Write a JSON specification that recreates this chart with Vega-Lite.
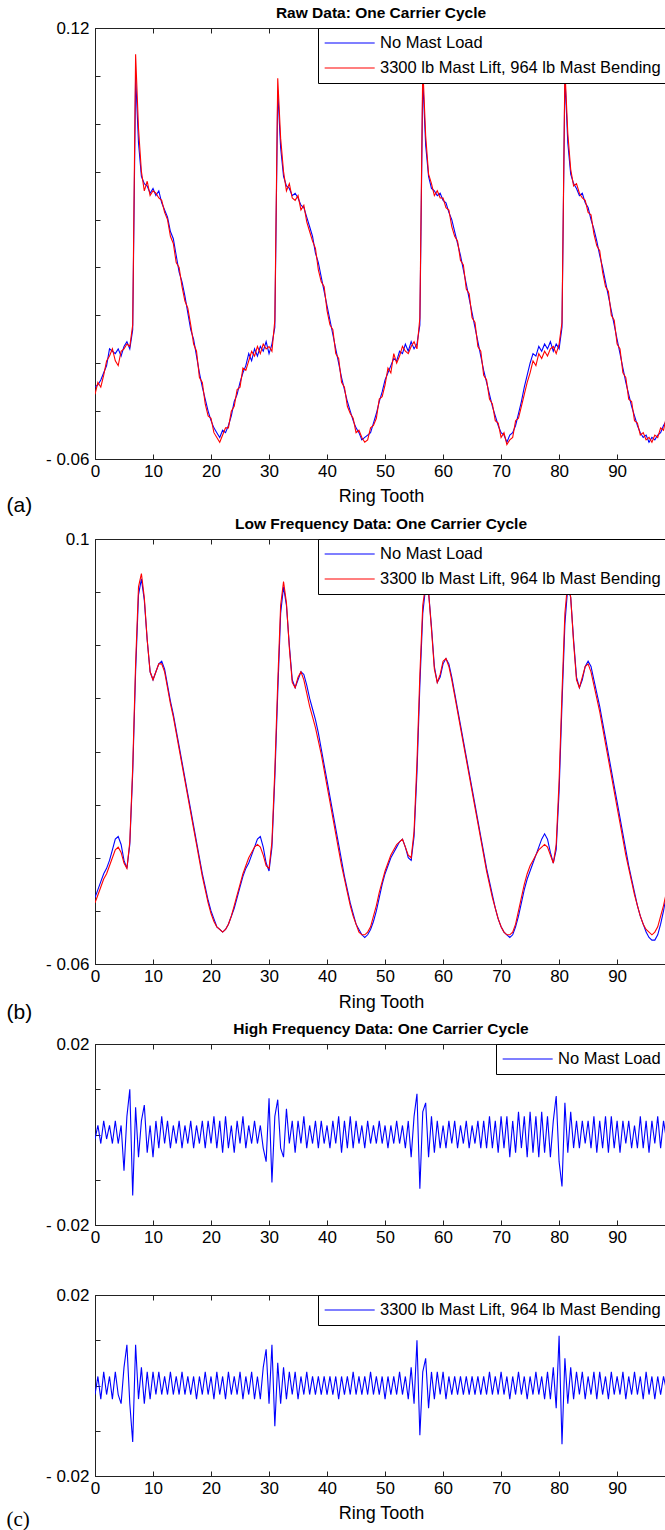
{
"$schema": "https://vega.github.io/schema/vega-lite/v6.json",
"background": "white",
"padding": {"left": 5, "top": 5, "right": 0, "bottom": 0},
"datasets": {"d": [
{"t":0,"an":-0.030,"al":-0.033,"bn":-0.035,"bl":-0.037,"cn":-0.001,"cl":-0.002},
{"t":0.5,"an":-0.029,"al":-0.028,"bn":-0.032,"bl":-0.034,"cn":0.002,"cl":0.002},
{"t":1,"an":-0.027,"al":-0.030,"bn":-0.029,"bl":-0.031,"cn":-0.002,"cl":-0.003},
{"t":1.5,"an":-0.024,"al":-0.025,"bn":-0.026,"bl":-0.028,"cn":0.003,"cl":0.003},
{"t":2,"an":-0.021,"al":-0.019,"bn":-0.024,"bl":-0.026,"cn":-0.001,"cl":-0.002},
{"t":2.5,"an":-0.014,"al":-0.017,"bn":-0.021,"bl":-0.023,"cn":0.002,"cl":0.002},
{"t":3,"an":-0.015,"al":-0.014,"bn":-0.017,"bl":-0.020,"cn":-0.002,"cl":-0.003},
{"t":3.5,"an":-0.016,"al":-0.019,"bn":-0.013,"bl":-0.017,"cn":0.003,"cl":0.003},
{"t":4,"an":-0.014,"al":-0.021,"bn":-0.012,"bl":-0.016,"cn":-0.002,"cl":-0.002},
{"t":4.5,"an":-0.017,"al":-0.015,"bn":-0.015,"bl":-0.018,"cn":0.002,"cl":-0.004},
{"t":5,"an":-0.013,"al":-0.014,"bn":-0.021,"bl":-0.022,"cn":-0.008,"cl":0.004},
{"t":5.5,"an":-0.011,"al":-0.012,"bn":-0.024,"bl":-0.024,"cn":0.004,"cl":0.009},
{"t":6,"an":-0.014,"al":-0.013,"bn":-0.015,"bl":-0.014,"cn":0.010,"cl":-0.004},
{"t":6.5,"an":-0.006,"al":-0.004,"bn":0.012,"bl":0.014,"cn":-0.0135,"cl":-0.0125},
{"t":7,"an":0.100,"al":0.109,"bn":0.050,"bl":0.053,"cn":0.006,"cl":0.009},
{"t":7.5,"an":0.072,"al":0.078,"bn":0.079,"bl":0.082,"cn":-0.005,"cl":-0.003},
{"t":8,"an":0.058,"al":0.060,"bn":0.085,"bl":0.087,"cn":0.003,"cl":0.004},
{"t":8.5,"an":0.055,"al":0.052,"bn":0.077,"bl":0.078,"cn":0.0065,"cl":-0.004},
{"t":9,"an":0.054,"al":0.056,"bn":0.062,"bl":0.062,"cn":-0.004,"cl":0.003},
{"t":9.5,"an":0.051,"al":0.050,"bn":0.050,"bl":0.050,"cn":0.002,"cl":-0.003},
{"t":10,"an":0.053,"al":0.052,"bn":0.047,"bl":0.047,"cn":-0.005,"cl":0.003},
{"t":10.5,"an":0.050,"al":0.051,"bn":0.050,"bl":0.050,"cn":0.003,"cl":-0.002},
{"t":11,"an":0.052,"al":0.049,"bn":0.053,"bl":0.053,"cn":-0.003,"cl":0.003},
{"t":11.5,"an":0.047,"al":0.048,"bn":0.054,"bl":0.053,"cn":0.004,"cl":-0.002},
{"t":12,"an":0.044,"al":0.043,"bn":0.051,"bl":0.050,"cn":-0.002,"cl":0.002},
{"t":12.5,"an":0.041,"al":0.040,"bn":0.045,"bl":0.044,"cn":0.003,"cl":-0.002},
{"t":13,"an":0.035,"al":0.033,"bn":0.039,"bl":0.038,"cn":-0.003,"cl":0.003},
{"t":13.5,"an":0.032,"al":0.030,"bn":0.034,"bl":0.033,"cn":0.002,"cl":-0.002},
{"t":14,"an":0.025,"al":0.022,"bn":0.028,"bl":0.027,"cn":-0.002,"cl":0.002},
{"t":14.5,"an":0.018,"al":0.020,"bn":0.022,"bl":0.021,"cn":0.003,"cl":-0.002},
{"t":15,"an":0.014,"al":0.012,"bn":0.016,"bl":0.015,"cn":-0.003,"cl":0.003},
{"t":15.5,"an":0.008,"al":0.006,"bn":0.010,"bl":0.009,"cn":0.002,"cl":-0.002},
{"t":16,"an":0.001,"al":0.003,"bn":0.004,"bl":0.003,"cn":-0.002,"cl":0.002},
{"t":16.5,"an":-0.006,"al":-0.004,"bn":-0.002,"bl":-0.003,"cn":0.003,"cl":-0.002},
{"t":17,"an":-0.010,"al":-0.012,"bn":-0.008,"bl":-0.009,"cn":-0.003,"cl":0.002},
{"t":17.5,"an":-0.017,"al":-0.015,"bn":-0.014,"bl":-0.015,"cn":0.002,"cl":-0.003},
{"t":18,"an":-0.024,"al":-0.026,"bn":-0.020,"bl":-0.021,"cn":-0.002,"cl":0.002},
{"t":18.5,"an":-0.030,"al":-0.028,"bn":-0.026,"bl":-0.027,"cn":0.003,"cl":-0.002},
{"t":19,"an":-0.035,"al":-0.037,"bn":-0.031,"bl":-0.032,"cn":-0.003,"cl":0.003},
{"t":19.5,"an":-0.040,"al":-0.042,"bn":-0.036,"bl":-0.037,"cn":0.003,"cl":-0.002},
{"t":20,"an":-0.044,"al":-0.043,"bn":-0.040,"bl":-0.041,"cn":-0.002,"cl":0.002},
{"t":20.5,"an":-0.047,"al":-0.049,"bn":-0.043,"bl":-0.044,"cn":0.004,"cl":-0.003},
{"t":21,"an":-0.049,"al":-0.051,"bn":-0.046,"bl":-0.046,"cn":-0.003,"cl":0.003},
{"t":21.5,"an":-0.051,"al":-0.053,"bn":-0.047,"bl":-0.047,"cn":0.003,"cl":-0.002},
{"t":22,"an":-0.048,"al":-0.050,"bn":-0.048,"bl":-0.048,"cn":-0.004,"cl":0.002},
{"t":22.5,"an":-0.049,"al":-0.047,"bn":-0.047,"bl":-0.047,"cn":0.004,"cl":-0.003},
{"t":23,"an":-0.046,"al":-0.047,"bn":-0.045,"bl":-0.045,"cn":-0.003,"cl":0.003},
{"t":23.5,"an":-0.042,"al":-0.040,"bn":-0.042,"bl":-0.042,"cn":0.002,"cl":-0.002},
{"t":24,"an":-0.036,"al":-0.038,"bn":-0.039,"bl":-0.038,"cn":-0.004,"cl":0.002},
{"t":24.5,"an":-0.033,"al":-0.031,"bn":-0.035,"bl":-0.034,"cn":0.003,"cl":-0.002},
{"t":25,"an":-0.028,"al":-0.030,"bn":-0.031,"bl":-0.030,"cn":-0.002,"cl":0.003},
{"t":25.5,"an":-0.024,"al":-0.022,"bn":-0.027,"bl":-0.026,"cn":0.004,"cl":-0.003},
{"t":26,"an":-0.021,"al":-0.023,"bn":-0.024,"bl":-0.023,"cn":-0.003,"cl":0.002},
{"t":26.5,"an":-0.016,"al":-0.019,"bn":-0.022,"bl":-0.020,"cn":0.002,"cl":-0.002},
{"t":27,"an":-0.019,"al":-0.015,"bn":-0.019,"bl":-0.018,"cn":-0.002,"cl":0.003},
{"t":27.5,"an":-0.014,"al":-0.017,"bn":-0.016,"bl":-0.016,"cn":0.003,"cl":-0.003},
{"t":28,"an":-0.017,"al":-0.013,"bn":-0.013,"bl":-0.015,"cn":-0.002,"cl":0.002},
{"t":28.5,"an":-0.013,"al":-0.016,"bn":-0.012,"bl":-0.016,"cn":0.002,"cl":-0.003},
{"t":29,"an":-0.015,"al":-0.012,"bn":-0.016,"bl":-0.019,"cn":-0.003,"cl":0.004},
{"t":29.5,"an":-0.011,"al":-0.014,"bn":-0.022,"bl":-0.023,"cn":-0.006,"cl":0.008},
{"t":30,"an":-0.016,"al":-0.013,"bn":-0.025,"bl":-0.024,"cn":0.008,"cl":-0.004},
{"t":30.5,"an":-0.012,"al":-0.015,"bn":-0.016,"bl":-0.014,"cn":-0.0106,"cl":0.009},
{"t":31,"an":-0.005,"al":-0.002,"bn":0.010,"bl":0.013,"cn":0.004,"cl":-0.009},
{"t":31.5,"an":0.094,"al":0.099,"bn":0.042,"bl":0.046,"cn":0.0077,"cl":0.005},
{"t":32,"an":0.070,"al":0.074,"bn":0.072,"bl":0.075,"cn":-0.003,"cl":-0.004},
{"t":32.5,"an":0.058,"al":0.060,"bn":0.082,"bl":0.084,"cn":-0.005,"cl":0.004},
{"t":33,"an":0.054,"al":0.052,"bn":0.075,"bl":0.076,"cn":0.0057,"cl":-0.003},
{"t":33.5,"an":0.053,"al":0.055,"bn":0.060,"bl":0.059,"cn":-0.002,"cl":0.003},
{"t":34,"an":0.050,"al":0.049,"bn":0.047,"bl":0.046,"cn":0.003,"cl":-0.002},
{"t":34.5,"an":0.051,"al":0.048,"bn":0.044,"bl":0.044,"cn":-0.004,"cl":0.003},
{"t":35,"an":0.049,"al":0.050,"bn":0.047,"bl":0.048,"cn":0.003,"cl":-0.003},
{"t":35.5,"an":0.046,"al":0.044,"bn":0.050,"bl":0.050,"cn":-0.002,"cl":0.002},
{"t":36,"an":0.045,"al":0.046,"bn":0.049,"bl":0.047,"cn":0.004,"cl":-0.002},
{"t":36.5,"an":0.041,"al":0.039,"bn":0.045,"bl":0.042,"cn":-0.003,"cl":0.003},
{"t":37,"an":0.037,"al":0.035,"bn":0.040,"bl":0.037,"cn":0.002,"cl":-0.002},
{"t":37.5,"an":0.033,"al":0.031,"bn":0.036,"bl":0.033,"cn":-0.002,"cl":0.002},
{"t":38,"an":0.026,"al":0.028,"bn":0.032,"bl":0.029,"cn":0.003,"cl":-0.002},
{"t":38.5,"an":0.022,"al":0.019,"bn":0.027,"bl":0.024,"cn":-0.003,"cl":0.002},
{"t":39,"an":0.016,"al":0.014,"bn":0.021,"bl":0.019,"cn":0.003,"cl":-0.002},
{"t":39.5,"an":0.010,"al":0.012,"bn":0.015,"bl":0.013,"cn":-0.002,"cl":0.002},
{"t":40,"an":0.004,"al":0.002,"bn":0.009,"bl":0.007,"cn":0.002,"cl":-0.002},
{"t":40.5,"an":-0.002,"al":-0.004,"bn":0.003,"bl":0.001,"cn":-0.003,"cl":0.002},
{"t":41,"an":-0.008,"al":-0.006,"bn":-0.003,"bl":-0.005,"cn":0.003,"cl":-0.002},
{"t":41.5,"an":-0.014,"al":-0.016,"bn":-0.009,"bl":-0.011,"cn":-0.002,"cl":0.002},
{"t":42,"an":-0.020,"al":-0.018,"bn":-0.015,"bl":-0.017,"cn":0.004,"cl":-0.003},
{"t":42.5,"an":-0.026,"al":-0.028,"bn":-0.021,"bl":-0.023,"cn":-0.004,"cl":0.002},
{"t":43,"an":-0.031,"al":-0.030,"bn":-0.027,"bl":-0.028,"cn":0.003,"cl":-0.002},
{"t":43.5,"an":-0.036,"al":-0.038,"bn":-0.032,"bl":-0.033,"cn":-0.003,"cl":0.002},
{"t":44,"an":-0.040,"al":-0.041,"bn":-0.037,"bl":-0.038,"cn":0.004,"cl":-0.002},
{"t":44.5,"an":-0.044,"al":-0.043,"bn":-0.041,"bl":-0.042,"cn":-0.003,"cl":0.003},
{"t":45,"an":-0.047,"al":-0.049,"bn":-0.045,"bl":-0.045,"cn":0.003,"cl":-0.002},
{"t":45.5,"an":-0.049,"al":-0.048,"bn":-0.047,"bl":-0.048,"cn":-0.002,"cl":0.002},
{"t":46,"an":-0.052,"al":-0.051,"bn":-0.049,"bl":-0.049,"cn":0.002,"cl":-0.002},
{"t":46.5,"an":-0.051,"al":-0.053,"bn":-0.050,"bl":-0.049,"cn":-0.003,"cl":0.002},
{"t":47,"an":-0.050,"al":-0.052,"bn":-0.049,"bl":-0.048,"cn":0.003,"cl":-0.002},
{"t":47.5,"an":-0.049,"al":-0.047,"bn":-0.047,"bl":-0.046,"cn":-0.002,"cl":0.003},
{"t":48,"an":-0.045,"al":-0.046,"bn":-0.044,"bl":-0.042,"cn":0.002,"cl":-0.002},
{"t":48.5,"an":-0.041,"al":-0.043,"bn":-0.040,"bl":-0.038,"cn":-0.002,"cl":0.002},
{"t":49,"an":-0.036,"al":-0.035,"bn":-0.035,"bl":-0.033,"cn":0.003,"cl":-0.002},
{"t":49.5,"an":-0.032,"al":-0.034,"bn":-0.030,"bl":-0.029,"cn":-0.002,"cl":0.002},
{"t":50,"an":-0.027,"al":-0.029,"bn":-0.026,"bl":-0.025,"cn":0.002,"cl":-0.003},
{"t":50.5,"an":-0.024,"al":-0.022,"bn":-0.023,"bl":-0.022,"cn":-0.003,"cl":0.002},
{"t":51,"an":-0.021,"al":-0.024,"bn":-0.020,"bl":-0.019,"cn":0.002,"cl":-0.002},
{"t":51.5,"an":-0.018,"al":-0.016,"bn":-0.018,"bl":-0.017,"cn":-0.002,"cl":0.002},
{"t":52,"an":-0.019,"al":-0.020,"bn":-0.016,"bl":-0.015,"cn":0.003,"cl":-0.002},
{"t":52.5,"an":-0.015,"al":-0.017,"bn":-0.014,"bl":-0.014,"cn":-0.002,"cl":0.003},
{"t":53,"an":-0.016,"al":-0.013,"bn":-0.013,"bl":-0.013,"cn":0.002,"cl":-0.002},
{"t":53.5,"an":-0.012,"al":-0.015,"bn":-0.016,"bl":-0.016,"cn":-0.003,"cl":0.002},
{"t":54,"an":-0.015,"al":-0.016,"bn":-0.020,"bl":-0.019,"cn":0.003,"cl":-0.003},
{"t":54.5,"an":-0.011,"al":-0.013,"bn":-0.021,"bl":-0.020,"cn":-0.005,"cl":0.004},
{"t":55,"an":-0.014,"al":-0.011,"bn":-0.012,"bl":-0.010,"cn":0.004,"cl":-0.004},
{"t":55.5,"an":-0.012,"al":-0.014,"bn":0.012,"bl":0.016,"cn":0.009,"cl":0.010},
{"t":56,"an":-0.004,"al":-0.001,"bn":0.045,"bl":0.049,"cn":-0.012,"cl":-0.011},
{"t":56.5,"an":0.099,"al":0.104,"bn":0.072,"bl":0.075,"cn":0.005,"cl":0.003},
{"t":57,"an":0.071,"al":0.075,"bn":0.082,"bl":0.083,"cn":0.007,"cl":0.006},
{"t":57.5,"an":0.058,"al":0.059,"bn":0.080,"bl":0.080,"cn":-0.005,"cl":-0.005},
{"t":58,"an":0.053,"al":0.055,"bn":0.067,"bl":0.066,"cn":0.004,"cl":0.003},
{"t":58.5,"an":0.052,"al":0.050,"bn":0.052,"bl":0.051,"cn":-0.004,"cl":-0.003},
{"t":59,"an":0.050,"al":0.052,"bn":0.046,"bl":0.046,"cn":0.003,"cl":0.003},
{"t":59.5,"an":0.051,"al":0.049,"bn":0.048,"bl":0.049,"cn":-0.003,"cl":-0.002},
{"t":60,"an":0.048,"al":0.049,"bn":0.053,"bl":0.054,"cn":0.002,"cl":0.003},
{"t":60.5,"an":0.047,"al":0.045,"bn":0.055,"bl":0.055,"cn":-0.003,"cl":-0.003},
{"t":61,"an":0.043,"al":0.044,"bn":0.053,"bl":0.052,"cn":0.003,"cl":0.002},
{"t":61.5,"an":0.040,"al":0.037,"bn":0.048,"bl":0.047,"cn":-0.002,"cl":-0.002},
{"t":62,"an":0.035,"al":0.033,"bn":0.042,"bl":0.041,"cn":0.003,"cl":0.002},
{"t":62.5,"an":0.030,"al":0.031,"bn":0.036,"bl":0.035,"cn":-0.003,"cl":-0.002},
{"t":63,"an":0.025,"al":0.023,"bn":0.030,"bl":0.029,"cn":0.002,"cl":0.002},
{"t":63.5,"an":0.019,"al":0.021,"bn":0.024,"bl":0.023,"cn":-0.002,"cl":-0.002},
{"t":64,"an":0.013,"al":0.011,"bn":0.018,"bl":0.017,"cn":0.003,"cl":0.002},
{"t":64.5,"an":0.007,"al":0.009,"bn":0.012,"bl":0.011,"cn":-0.003,"cl":-0.002},
{"t":65,"an":0.001,"al":-0.001,"bn":0.006,"bl":0.005,"cn":0.002,"cl":0.002},
{"t":65.5,"an":-0.005,"al":-0.003,"bn":0,"bl":-0.001,"cn":-0.002,"cl":-0.002},
{"t":66,"an":-0.011,"al":-0.013,"bn":-0.006,"bl":-0.007,"cn":0.003,"cl":0.002},
{"t":66.5,"an":-0.017,"al":-0.015,"bn":-0.012,"bl":-0.013,"cn":-0.003,"cl":-0.002},
{"t":67,"an":-0.023,"al":-0.025,"bn":-0.018,"bl":-0.019,"cn":0.003,"cl":0.002},
{"t":67.5,"an":-0.028,"al":-0.027,"bn":-0.024,"bl":-0.025,"cn":-0.003,"cl":-0.002},
{"t":68,"an":-0.033,"al":-0.035,"bn":-0.029,"bl":-0.030,"cn":0.004,"cl":0.003},
{"t":68.5,"an":-0.038,"al":-0.037,"bn":-0.034,"bl":-0.035,"cn":-0.003,"cl":-0.002},
{"t":69,"an":-0.042,"al":-0.044,"bn":-0.039,"bl":-0.039,"cn":0.003,"cl":0.002},
{"t":69.5,"an":-0.046,"al":-0.045,"bn":-0.043,"bl":-0.043,"cn":-0.004,"cl":-0.002},
{"t":70,"an":-0.049,"al":-0.051,"bn":-0.046,"bl":-0.046,"cn":0.004,"cl":0.003},
{"t":70.5,"an":-0.050,"al":-0.049,"bn":-0.048,"bl":-0.048,"cn":-0.003,"cl":-0.002},
{"t":71,"an":-0.053,"al":-0.054,"bn":-0.049,"bl":-0.049,"cn":0.004,"cl":0.002},
{"t":71.5,"an":-0.050,"al":-0.052,"bn":-0.050,"bl":-0.049,"cn":-0.005,"cl":-0.003},
{"t":72,"an":-0.049,"al":-0.051,"bn":-0.049,"bl":-0.048,"cn":0.003,"cl":0.002},
{"t":72.5,"an":-0.046,"al":-0.044,"bn":-0.046,"bl":-0.045,"cn":-0.004,"cl":-0.002},
{"t":73,"an":-0.041,"al":-0.043,"bn":-0.042,"bl":-0.040,"cn":0.005,"cl":0.003},
{"t":73.5,"an":-0.036,"al":-0.038,"bn":-0.037,"bl":-0.035,"cn":-0.003,"cl":-0.002},
{"t":74,"an":-0.030,"al":-0.033,"bn":-0.032,"bl":-0.030,"cn":0.004,"cl":0.002},
{"t":74.5,"an":-0.025,"al":-0.028,"bn":-0.028,"bl":-0.026,"cn":-0.005,"cl":-0.003},
{"t":75,"an":-0.020,"al":-0.024,"bn":-0.025,"bl":-0.023,"cn":0.005,"cl":0.002},
{"t":75.5,"an":-0.016,"al":-0.019,"bn":-0.022,"bl":-0.021,"cn":-0.004,"cl":-0.002},
{"t":76,"an":-0.017,"al":-0.021,"bn":-0.019,"bl":-0.019,"cn":0.004,"cl":0.003},
{"t":76.5,"an":-0.013,"al":-0.016,"bn":-0.016,"bl":-0.017,"cn":-0.005,"cl":-0.002},
{"t":77,"an":-0.015,"al":-0.018,"bn":-0.013,"bl":-0.016,"cn":0.005,"cl":0.002},
{"t":77.5,"an":-0.012,"al":-0.015,"bn":-0.011,"bl":-0.015,"cn":-0.004,"cl":-0.003},
{"t":78,"an":-0.014,"al":-0.017,"bn":-0.013,"bl":-0.016,"cn":0.004,"cl":0.003},
{"t":78.5,"an":-0.011,"al":-0.014,"bn":-0.018,"bl":-0.019,"cn":-0.005,"cl":-0.003},
{"t":79,"an":-0.015,"al":-0.013,"bn":-0.022,"bl":-0.022,"cn":0.003,"cl":0.004},
{"t":79.5,"an":-0.012,"al":-0.016,"bn":-0.017,"bl":-0.015,"cn":0.0085,"cl":-0.005},
{"t":80,"an":-0.014,"al":-0.012,"bn":0.005,"bl":0.009,"cn":-0.006,"cl":0.011},
{"t":80.5,"an":-0.005,"al":-0.003,"bn":0.038,"bl":0.042,"cn":-0.0115,"cl":-0.013},
{"t":81,"an":0.100,"al":0.103,"bn":0.068,"bl":0.072,"cn":0.007,"cl":0.006},
{"t":81.5,"an":0.072,"al":0.076,"bn":0.082,"bl":0.084,"cn":-0.004,"cl":-0.004},
{"t":82,"an":0.059,"al":0.061,"bn":0.078,"bl":0.078,"cn":0.005,"cl":0.004},
{"t":82.5,"an":0.055,"al":0.054,"bn":0.062,"bl":0.061,"cn":-0.003,"cl":-0.003},
{"t":83,"an":0.053,"al":0.055,"bn":0.048,"bl":0.047,"cn":0.003,"cl":0.003},
{"t":83.5,"an":0.050,"al":0.051,"bn":0.044,"bl":0.044,"cn":-0.003,"cl":-0.002},
{"t":84,"an":0.051,"al":0.049,"bn":0.047,"bl":0.048,"cn":0.003,"cl":0.003},
{"t":84.5,"an":0.047,"al":0.048,"bn":0.052,"bl":0.052,"cn":-0.002,"cl":-0.003},
{"t":85,"an":0.045,"al":0.043,"bn":0.054,"bl":0.053,"cn":0.003,"cl":0.002},
{"t":85.5,"an":0.040,"al":0.042,"bn":0.052,"bl":0.050,"cn":-0.003,"cl":-0.002},
{"t":86,"an":0.036,"al":0.034,"bn":0.047,"bl":0.045,"cn":0.004,"cl":0.003},
{"t":86.5,"an":0.031,"al":0.029,"bn":0.042,"bl":0.040,"cn":-0.004,"cl":-0.003},
{"t":87,"an":0.025,"al":0.027,"bn":0.037,"bl":0.035,"cn":0.003,"cl":0.003},
{"t":87.5,"an":0.020,"al":0.018,"bn":0.031,"bl":0.029,"cn":-0.003,"cl":-0.002},
{"t":88,"an":0.014,"al":0.012,"bn":0.025,"bl":0.023,"cn":0.004,"cl":0.002},
{"t":88.5,"an":0.008,"al":0.010,"bn":0.019,"bl":0.017,"cn":-0.004,"cl":-0.003},
{"t":89,"an":0.002,"al":0,"bn":0.013,"bl":0.011,"cn":0.004,"cl":0.003},
{"t":89.5,"an":-0.004,"al":-0.002,"bn":0.007,"bl":0.005,"cn":-0.003,"cl":-0.002},
{"t":90,"an":-0.010,"al":-0.012,"bn":0.001,"bl":-0.001,"cn":0.003,"cl":0.002},
{"t":90.5,"an":-0.016,"al":-0.014,"bn":-0.005,"bl":-0.007,"cn":-0.004,"cl":-0.002},
{"t":91,"an":-0.022,"al":-0.024,"bn":-0.011,"bl":-0.013,"cn":0.003,"cl":0.003},
{"t":91.5,"an":-0.028,"al":-0.026,"bn":-0.017,"bl":-0.019,"cn":-0.002,"cl":-0.003},
{"t":92,"an":-0.033,"al":-0.035,"bn":-0.023,"bl":-0.024,"cn":0.003,"cl":0.002},
{"t":92.5,"an":-0.038,"al":-0.036,"bn":-0.028,"bl":-0.029,"cn":-0.003,"cl":-0.002},
{"t":93,"an":-0.042,"al":-0.044,"bn":-0.033,"bl":-0.034,"cn":0.002,"cl":0.003},
{"t":93.5,"an":-0.046,"al":-0.045,"bn":-0.038,"bl":-0.038,"cn":-0.003,"cl":-0.002},
{"t":94,"an":-0.049,"al":-0.050,"bn":-0.042,"bl":-0.042,"cn":0.004,"cl":0.002},
{"t":94.5,"an":-0.051,"al":-0.049,"bn":-0.045,"bl":-0.045,"cn":-0.003,"cl":-0.003},
{"t":95,"an":-0.050,"al":-0.052,"bn":-0.048,"bl":-0.047,"cn":0.003,"cl":0.003},
{"t":95.5,"an":-0.053,"al":-0.051,"bn":-0.050,"bl":-0.048,"cn":-0.004,"cl":-0.002},
{"t":96,"an":-0.051,"al":-0.053,"bn":-0.051,"bl":-0.049,"cn":0.003,"cl":0.002},
{"t":96.5,"an":-0.052,"al":-0.050,"bn":-0.051,"bl":-0.048,"cn":-0.002,"cl":-0.003},
{"t":97,"an":-0.050,"al":-0.051,"bn":-0.049,"bl":-0.046,"cn":0.004,"cl":0.002},
{"t":97.5,"an":-0.049,"al":-0.047,"bn":-0.045,"bl":-0.042,"cn":-0.003,"cl":-0.002},
{"t":98,"an":-0.046,"al":-0.048,"bn":-0.040,"bl":-0.038,"cn":0.003,"cl":0.002},
{"t":98.5,"an":-0.044,"al":-0.042,"bn":-0.034,"bl":-0.033,"cn":-0.001,"cl":-0.001}
]},
"data": {"name": "d"},
"config": {
  "font": "Liberation Sans",
  "view": {"stroke": "#222", "strokeWidth": 1},
  "axis": {"domainColor": "#222", "tickColor": "#222", "labelColor": "#000", "titleColor": "#000", "grid": false, "tickSize": -5, "labelFontSize": 17, "labelFont": "Liberation Sans", "titleFont": "Liberation Sans", "titleFontWeight": "normal", "titleFontSize": 18, "labelFlush": false, "labelOverlap": false},
  "axisX": {"labelPadding": 9},
  "axisY": {"labelPadding": 11, "labelBaseline": "middle"},
  "title": {"fontSize": 15.5, "fontWeight": "bold", "font": "Liberation Sans", "color": "#000", "offset": -2, "anchor": "middle", "frame": "group"},
  "legend": {"orient": "top-right", "offset": 0, "symbolType": "M-1,0H5", "symbolSize": 278, "symbolStrokeWidth": 1.2, "labelFontSize": 16.5, "labelFont": "Liberation Sans", "labelColor": "#000", "strokeColor": "#000", "fillColor": "#fff", "padding": 6, "rowPadding": 7, "labelLimit": 0, "labelOffset": 38, "cornerRadius": 0},
  "line": {"strokeWidth": 1.1}
},
"bounds": "flush",
"spacing": 80,
"resolve": {"scale": {"x": "independent", "y": "independent", "color": "independent"}, "legend": {"color": "independent"}},
"vconcat": [
  {
    "title": {"text": "Raw Data: One Carrier Cycle"},
    "width": 572, "height": 431,
    "layer": [
      {"mark": {"type": "line", "clip": true},
       "encoding": {
         "x": {"field": "t", "type": "quantitative", "scale": {"domain": [0, 98.6], "nice": false, "zero": false},
               "axis": {"orient": "bottom", "values": [0,10,20,30,40,50,60,70,80,90], "title": "Ring Tooth", "titlePadding": 8}},
         "y": {"field": "an", "type": "quantitative", "scale": {"domain": [-0.06, 0.12], "nice": false, "zero": false},
               "axis": {"values": [-0.06,-0.04,-0.02,0,0.02,0.04,0.06,0.08,0.1,0.12], "labelExpr": "datum.value == 0.12 ? '0.12' : (datum.value == -0.06 ? '- 0.06' : '')",
                        "title": "(a)", "titleAngle": 0, "titleX": -89, "titleY": 477, "titleAlign": "left", "titleBaseline": "middle", "titleFontSize": 21}},
         "color": {"datum": "No Mast Load", "type": "nominal",
                   "scale": {"domain": ["No Mast Load", "3300 lb Mast Lift, 964 lb Mast Bending"], "range": ["#0000ff", "#ff0000"]},
                   "legend": {"title": null}}
       }},
      {"mark": {"type": "line", "clip": true},
       "encoding": {
         "x": {"field": "t", "type": "quantitative", "axis": {"orient": "top", "values": [0,10,20,30,40,50,60,70,80,90], "labels": false, "domain": false, "title": null}},
         "y": {"field": "al", "type": "quantitative"},
         "color": {"datum": "3300 lb Mast Lift, 964 lb Mast Bending", "type": "nominal"}
       }}
    ],
    "resolve": {"axis": {"x": "independent"}}
  },
  {
    "title": {"text": "Low Frequency Data: One Carrier Cycle"},
    "width": 572, "height": 425,
    "layer": [
      {"mark": {"type": "line", "clip": true},
       "encoding": {
         "x": {"field": "t", "type": "quantitative", "scale": {"domain": [0, 98.6], "nice": false, "zero": false},
               "axis": {"orient": "bottom", "values": [0,10,20,30,40,50,60,70,80,90], "title": "Ring Tooth", "titlePadding": 9}},
         "y": {"field": "bn", "type": "quantitative", "scale": {"domain": [-0.06, 0.1], "nice": false, "zero": false},
               "axis": {"values": [-0.06,-0.04,-0.02,0,0.02,0.04,0.06,0.08,0.1], "labelExpr": "datum.value == 0.1 ? '0.1' : (datum.value == -0.06 ? '- 0.06' : '')",
                        "title": "(b)", "titleAngle": 0, "titleX": -89, "titleY": 473, "titleAlign": "left", "titleBaseline": "middle", "titleFontSize": 21}},
         "color": {"datum": "No Mast Load", "type": "nominal",
                   "scale": {"domain": ["No Mast Load", "3300 lb Mast Lift, 964 lb Mast Bending"], "range": ["#0000ff", "#ff0000"]},
                   "legend": {"title": null}}
       }},
      {"mark": {"type": "line", "clip": true},
       "encoding": {
         "x": {"field": "t", "type": "quantitative", "axis": {"orient": "top", "values": [0,10,20,30,40,50,60,70,80,90], "labels": false, "domain": false, "title": null}},
         "y": {"field": "bl", "type": "quantitative"},
         "color": {"datum": "3300 lb Mast Lift, 964 lb Mast Bending", "type": "nominal"}
       }}
    ],
    "resolve": {"axis": {"x": "independent"}}
  },
  {
    "bounds": "flush",
    "spacing": 70,
    "resolve": {"scale": {"x": "independent", "y": "independent", "color": "independent"}, "legend": {"color": "independent"}},
    "vconcat": [
      {
        "title": {"text": "High Frequency Data: One Carrier Cycle"},
        "width": 572, "height": 181,
        "layer": [
          {"mark": {"type": "line", "clip": true},
           "encoding": {
             "x": {"field": "t", "type": "quantitative", "scale": {"domain": [0, 98.6], "nice": false, "zero": false},
                   "axis": {"orient": "bottom", "values": [0,10,20,30,40,50,60,70,80,90], "title": null}},
             "y": {"field": "cn", "type": "quantitative", "scale": {"domain": [-0.02, 0.02], "nice": false, "zero": false},
                   "axis": {"values": [-0.02,-0.015,-0.01,-0.005,0,0.005,0.01,0.015,0.02], "labelExpr": "datum.value == 0.02 ? '0.02' : (datum.value == -0.02 ? '- 0.02' : '')", "title": null}},
             "color": {"datum": "No Mast Load", "type": "nominal",
                       "scale": {"domain": ["No Mast Load"], "range": ["#0000ff"]},
                       "legend": {"title": null}}
           }},
          {"mark": {"type": "line", "opacity": 0},
           "encoding": {
             "x": {"field": "t", "type": "quantitative", "axis": {"orient": "top", "values": [0,10,20,30,40,50,60,70,80,90], "labels": false, "domain": false, "title": null}},
             "y": {"field": "cn", "type": "quantitative"}
           }}
        ],
        "resolve": {"axis": {"x": "independent"}}
      },
      {
        "width": 572, "height": 181,
        "layer": [
          {"mark": {"type": "line", "clip": true},
           "encoding": {
             "x": {"field": "t", "type": "quantitative", "scale": {"domain": [0, 98.6], "nice": false, "zero": false},
                   "axis": {"orient": "bottom", "values": [0,10,20,30,40,50,60,70,80,90], "title": "Ring Tooth", "titlePadding": 8}},
             "y": {"field": "cl", "type": "quantitative", "scale": {"domain": [-0.02, 0.02], "nice": false, "zero": false},
                   "axis": {"values": [-0.02,-0.015,-0.01,-0.005,0,0.005,0.01,0.015,0.02], "labelExpr": "datum.value == 0.02 ? '0.02' : (datum.value == -0.02 ? '- 0.02' : '')",
                            "title": "(c)", "titleAngle": 0, "titleX": -89, "titleY": 224, "titleAlign": "left", "titleBaseline": "middle", "titleFontSize": 21, "titleFont": "Liberation Serif"}},
             "color": {"datum": "3300 lb Mast Lift, 964 lb Mast Bending", "type": "nominal",
                       "scale": {"domain": ["3300 lb Mast Lift, 964 lb Mast Bending"], "range": ["#0000ff"]},
                       "legend": {"title": null}}
           }},
          {"mark": {"type": "line", "opacity": 0},
           "encoding": {
             "x": {"field": "t", "type": "quantitative", "axis": {"orient": "top", "values": [0,10,20,30,40,50,60,70,80,90], "labels": false, "domain": false, "title": null}},
             "y": {"field": "cl", "type": "quantitative"}
           }}
        ],
        "resolve": {"axis": {"x": "independent"}}
      }
    ]
  }
]
}
